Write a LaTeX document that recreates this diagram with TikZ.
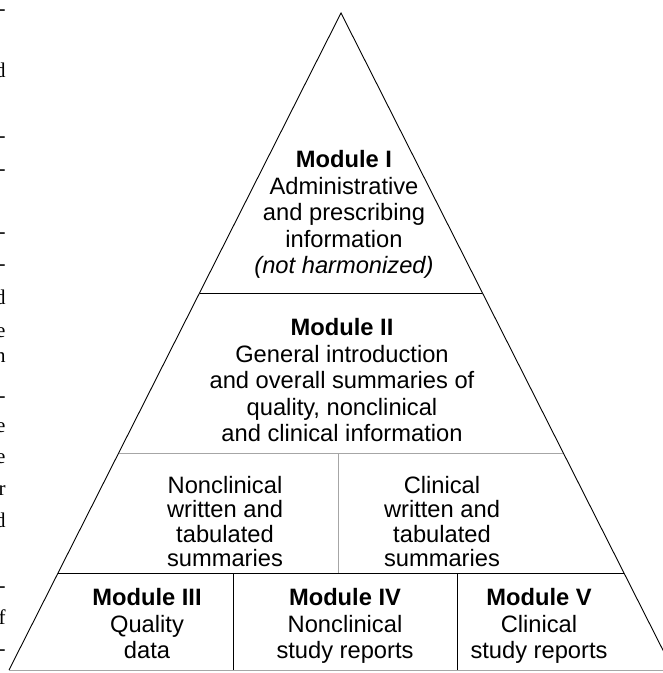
\documentclass[tikz,border=0pt]{standalone}
\usepackage{fontspec}
\setmainfont{Liberation Sans}
\newfontfamily\pageserif{Liberation Serif}
\usetikzlibrary{calc}

\tikzset{
  modtext/.style={align=center, anchor=north, inner sep=0pt,
    font=\fontsize{23.7}{26.5}\selectfont},
  celltext/.style={modtext, font=\fontsize{23.7}{24.2}\selectfont},
  margintext/.style={anchor=base east, inner sep=0pt,
    font=\pageserif\fontsize{21}{26}\selectfont},
  greyline/.style={draw=black!35},
}

\begin{document}
\begin{tikzpicture}[x=1pt, y=-1pt, line width=0.9pt]
  \useasboundingbox (0,0) rectangle (663,673);
  \clip (0,0) rectangle (663,673);

  % the pyramid
  \coordinate (apex) at (341,13);
  \coordinate (bl) at (9,670);
  \coordinate (br) at (673,670);
  \draw (bl) -- (apex) -- (br);
  \draw[greyline] (bl) -- (br);

  % levels
  \coordinate (l1) at ($(apex)!0.4262!(bl)$);
  \coordinate (r1) at ($(apex)!0.4262!(br)$);
  \coordinate (l2) at ($(apex)!0.6697!(bl)$);
  \coordinate (r2) at ($(apex)!0.6697!(br)$);
  \coordinate (l3) at ($(apex)!0.8524!(bl)$);
  \coordinate (r3) at ($(apex)!0.8524!(br)$);
  \draw (l1) -- (r1);
  \draw[greyline] (l2) -- (r2);
  \draw (l3) -- (r3);

  % cells
  \coordinate (m2) at (338,453);
  \coordinate (m3) at (338,573);
  \draw[greyline] (m2) -- (m3);
  \coordinate (a3) at (233,573);
  \coordinate (a4) at (233,670);
  \coordinate (b3) at (457,573);
  \coordinate (b4) at (457,670);
  \draw (a3) -- (a4);
  \draw (b3) -- (b4);

  \node[modtext] (mod1) at (344,150) {\textbf{Module I}\\Administrative\\and prescribing\\information\\\textit{(not harmonized)}};
  \node[modtext] (mod2) at (342,318) {\textbf{Module II}\\General introduction\\and overall summaries of\\quality, nonclinical\\and clinical information};
  \node[celltext] (ncsum) at (225,476) {Nonclinical\\written and\\tabulated\\summaries};
  \node[celltext] (csum) at (442,476) {Clinical\\written and\\tabulated\\summaries};
  \node[modtext] (mod3) at (147,588) {\textbf{Module III}\\Quality\\data};
  \node[modtext] (mod4) at (345,588) {\textbf{Module IV}\\Nonclinical\\study reports};
  \node[modtext] (mod5) at (539,588) {\textbf{Module V}\\Clinical\\study reports};

  % line ends of the page text at the left
  \node[margintext] (p1) at (6,15) {-};
  \node[margintext] (p2) at (6,77) {d};
  \node[margintext] (p3) at (6,142) {-};
  \node[margintext] (p4) at (6,175) {-};
  \node[margintext] (p5) at (6,238) {-};
  \node[margintext] (p6) at (6,270) {-};
  \node[margintext] (p7) at (6,304) {d};
  \node[margintext] (p8) at (6,337) {e};
  \node[margintext] (p9) at (6,362) {n};
  \node[margintext] (p10) at (6,402) {-};
  \node[margintext] (p11) at (6,432) {e};
  \node[margintext] (p12) at (6,463) {e};
  \node[margintext] (p13) at (6,495) {r};
  \node[margintext] (p14) at (6,527) {d};
  \node[margintext] (p15) at (6,592) {-};
  \node[margintext] (p16) at (6,624) {f};
  \node[margintext] (p17) at (6,655) {-};
\end{tikzpicture}
\end{document}
